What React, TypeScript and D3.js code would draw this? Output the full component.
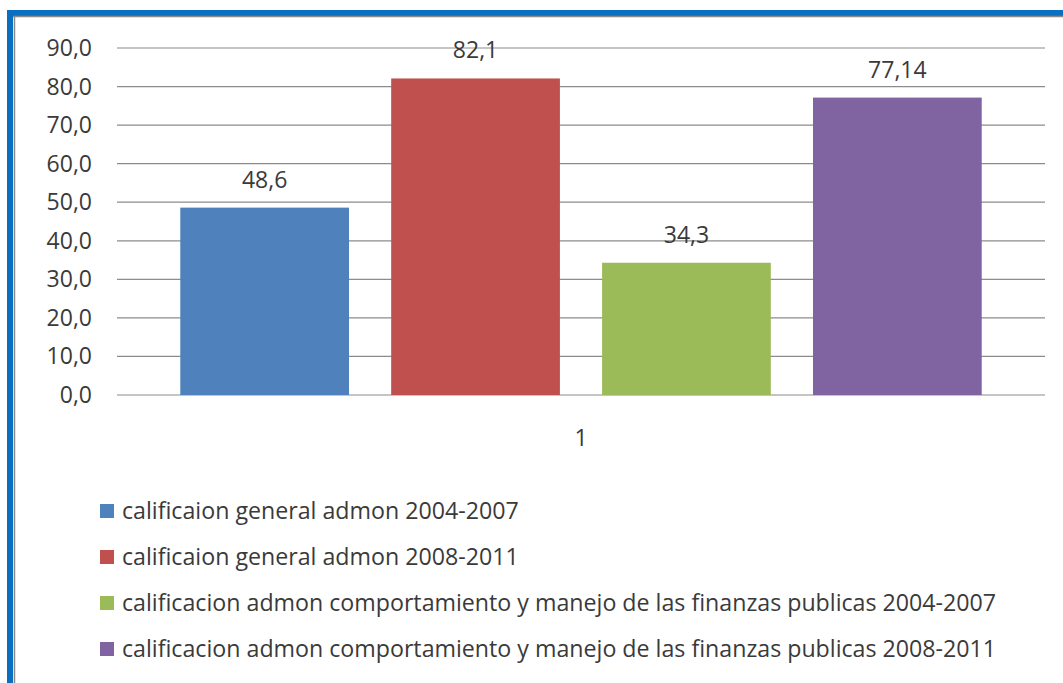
import React from "react";
import * as d3 from "d3";

const seriesNames = [
  "calificaion general admon 2004-2007",
  "calificaion general admon 2008-2011",
  "calificacion admon comportamiento y manejo de las finanzas publicas 2004-2007",
  "calificacion admon comportamiento y manejo de las finanzas publicas 2008-2011",
];
const seriesValues = [48.6, 82.1, 34.3, 77.14];
const valueLabels = ["48,6", "82,1", "34,3", "77,14"];
const seriesColors = ["#4F81BD", "#C0504D", "#9BBB59", "#8064A2"];
const yTicks = [0, 10, 20, 30, 40, 50, 60, 70, 80, 90];
const categoryLabel = "1";

const W = 1063;
const H = 683;
const FONT = "'Open Sans', 'Noto Sans', sans-serif";
const TXT = "#3a3a3a";

export default function App() {
  const plotL = 117, plotR = 1045, plotT = 48, plotB = 395;
  const y = d3.scaleLinear().domain([0, 90]).range([plotB, plotT]);
  const x = d3
    .scaleBand<string>()
    .domain(seriesNames)
    .range([plotL, plotR])
    .paddingInner(0.2)
    .paddingOuter(0.3);
  const fmt = (v: number) => d3.format(".1f")(v).replace(".", ",");
  const legendY = d3.scaleLinear().domain([0, 1]).range([511, 557]);

  return (
    <svg
      width={W}
      height={H}
      style={{ position: "absolute", left: 0, top: 0, background: "#fff" }}
    >
      <rect x={0} y={0} width={W} height={H} fill="#fff" />
      {/* frame */}
      <rect x={7} y={10} width={W - 7} height={6} fill="#0B6FC1" />
      <rect x={7} y={10} width={6} height={H - 10} fill="#0B6FC1" />
      <line x1={13} x2={W} y1={16.5} y2={16.5} stroke="#8a8a8a" strokeWidth={1.5} />
      <line x1={14.5} x2={14.5} y1={16} y2={H} stroke="#8a8a8a" strokeWidth={1.5} />

      {/* gridlines */}
      {yTicks.map((t) => (
        <line
          key={t}
          x1={plotL}
          x2={plotR}
          y1={y(t)}
          y2={y(t)}
          stroke="#8c8c8c"
          strokeWidth={1.2}
        />
      ))}
      {yTicks.map((t) => (
        <text
          key={"l" + t}
          x={92}
          y={y(t) + 8}
          textAnchor="end"
          fontFamily={FONT}
          fontSize={23}
          fill={TXT}
        >
          {fmt(t)}
        </text>
      ))}

      {/* bars */}
      {seriesNames.map((s, i) => (
        <rect
          key={s}
          x={x(s)}
          y={y(seriesValues[i])}
          width={x.bandwidth()}
          height={plotB - y(seriesValues[i])}
          fill={seriesColors[i]}
        />
      ))}
      {seriesNames.map((s, i) => (
        <text
          key={"v" + s}
          x={(x(s) as number) + x.bandwidth() / 2}
          y={y(seriesValues[i]) - 20}
          textAnchor="middle"
          fontFamily={FONT}
          fontSize={23}
          fill={TXT}
        >
          {valueLabels[i]}
        </text>
      ))}

      {/* category */}
      <text
        x={(plotL + plotR) / 2}
        y={446}
        textAnchor="middle"
        fontFamily={FONT}
        fontSize={23}
        fill={TXT}
      >
        {categoryLabel}
      </text>

      {/* legend */}
      {seriesNames.map((s, i) => (
        <g key={"lg" + s} transform={`translate(0, ${legendY(i)})`}>
          <rect x={100} y={-7} width={14} height={14} fill={seriesColors[i]} />
          <text
            x={122}
            y={8}
            fontFamily={FONT}
            fontSize={23.2}
            fill={TXT}
          >
            {s}
          </text>
        </g>
      ))}
    </svg>
  );
}
